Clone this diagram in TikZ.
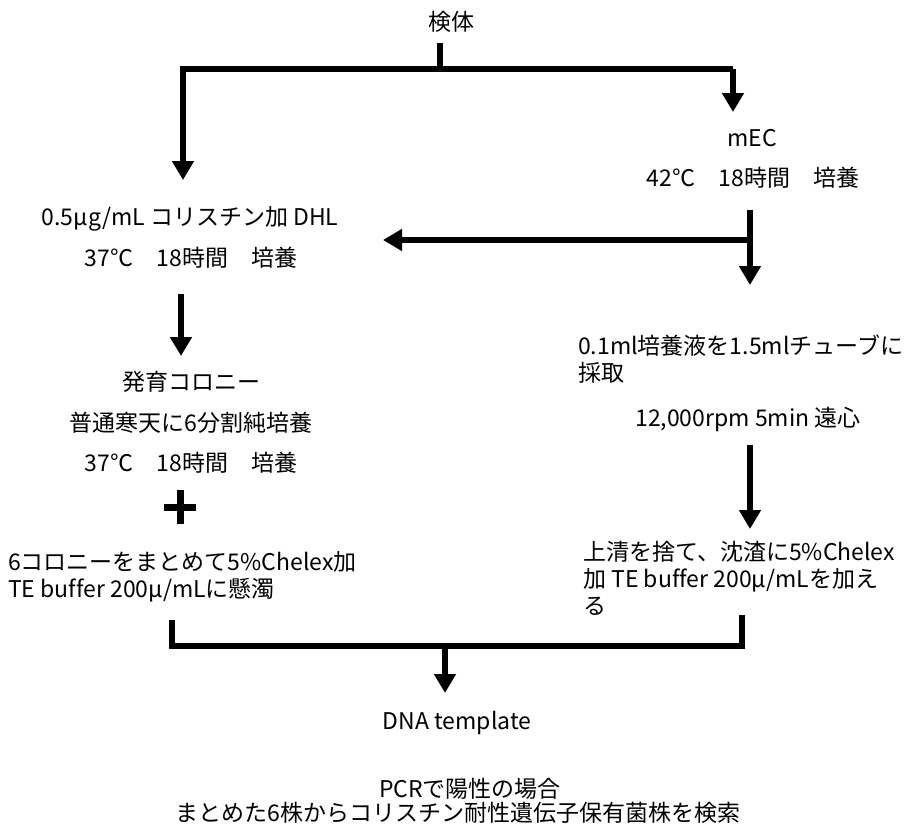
\documentclass[tikz,border=0pt]{standalone}
\usepackage{fontspec}
\setmainfont{Noto Sans CJK JP}[Ligatures=NoCommon]
\usetikzlibrary{arrows.meta}
\tikzset{
  conn/.style={line width=6pt, line cap=butt, line join=miter},
  arr/.style={conn, -{Triangle[width=21pt,length=19pt]}},
  txt/.style={inner sep=0pt, font=\fontsize{23}{27}\selectfont},
  blk/.style={txt, align=left, anchor=north west},
}
\begin{document}
\begin{tikzpicture}[x=1pt,y=-1pt]
\useasboundingbox (0,0) rectangle (904,836);
% texts
\node[txt] (src) at (451,22) {検体};
\node[txt] (mec) at (752,138) {mEC};
\node[txt] (mec2) at (753,178) {42℃　18時間　培養};
\node[txt] (dhl) at (190,219) {0.5μg/mL コリスチン加 DHL};
\node[txt] (dhl2) at (191,258) {37℃　18時間　培養};
\node[txt] (col) at (191,382) {発育コロニー};
\node[txt] (col2) at (191,423) {普通寒天に6分割純培養};
\node[txt] (col3) at (191,463) {37℃　18時間　培養};
\node[blk] (chel) at (8,551) {6コロニーをまとめて5\%Chelex加\\TE buffer 200μ/mLに懸濁};
\node[blk] (tube) at (578,335) {0.1ml培養液を1.5mlチューブに\\採取};
\node[txt] (cent) at (748,419) {12,000rpm 5min 遠心};
\node[blk] (sup) at (583,541) {上清を捨て、沈渣に5\%Chelex\\加 TE buffer 200μ/mLを加え\\る};
\node[txt] (dna) at (457,723) {DNA template};
\node[txt] (pcr) at (470,789) {PCRで陽性の場合};
\node[txt] (pcr2) at (458,813) {まとめた6株からコリスチン耐性遺伝子保有菌株を検索};
% coordinates
\coordinate (s0) at (440,43);
\coordinate (s1) at (440,69);
\coordinate (hl) at (183,69);
\coordinate (hr) at (733,69);
\coordinate (lt) at (183,180);
\coordinate (rt) at (733,112);
\coordinate (v0) at (750,210);
\coordinate (vm) at (750,240);
\coordinate (vt) at (750,285);
\coordinate (ht) at (383,240);
\coordinate (a0) at (181,294);
\coordinate (a1) at (181,356);
\coordinate (b0) at (750,445);
\coordinate (b1) at (750,529);
\coordinate (c0) at (172,620);
\coordinate (c1) at (172,646);
\coordinate (c2) at (742,646);
\coordinate (c3) at (742,615);
\coordinate (cm) at (445,646);
\coordinate (ct) at (445,693);
% connectors
\draw[conn] (s0) -- (s1);
\draw[arr] (hr) -- (hl) -- (lt);
\draw[arr] (hr) -- (rt);
\draw[arr] (v0) -- (vt);
\draw[arr] (vm) -- (ht);
\draw[arr] (a0) -- (a1);
\draw[arr] (b0) -- (b1);
\draw[conn] (c0) -- (c1) -- (c2) -- (c3);
\draw[arr] (cm) -- (ct);
% plus sign
\coordinate (plus) at (180,507);
\draw[line width=7pt] ([xshift=-16pt]plus) -- ([xshift=16pt]plus);
\draw[line width=7pt] ([yshift=-17pt]plus) -- ([yshift=17pt]plus);
\end{tikzpicture}
\end{document}
